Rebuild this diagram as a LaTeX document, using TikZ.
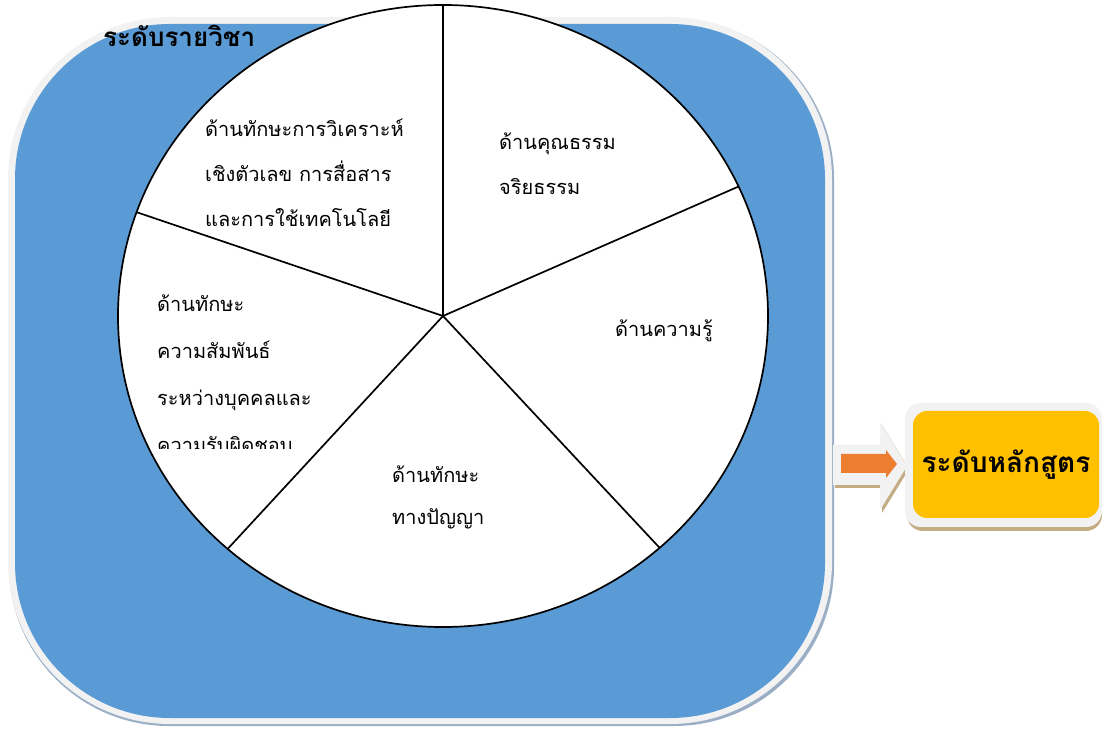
\documentclass[tikz,border=0pt]{standalone}
\usepackage{fontspec}
\newfontfamily\thaifont[Script=Thai]{Loma}
\usepackage{xcolor}
\usepackage{tikz}
\usetikzlibrary{calc}
\definecolor{boxblue}{HTML}{5B9BD5}
\definecolor{rimgray}{HTML}{F2F2F2}
\definecolor{shadeblue}{HTML}{9AAEC6}
\definecolor{arroworange}{HTML}{ED7D31}
\definecolor{boxyellow}{HTML}{FFC000}
\definecolor{shadetan}{HTML}{C4AC84}

\begin{document}
\begin{tikzpicture}[x=1pt,y=1pt]%%levels
        \tikzstyle{label} = [font=\thaifont\fontsize{20}{24}\selectfont, anchor=base west, inner sep=0pt]
        \tikzstyle{head}  = [font=\thaifont\bfseries\fontsize{26}{30}\selectfont, inner sep=0pt]
        \useasboundingbox (0,0) rectangle (1102,728);
        % course box (left)
        \fill [shadeblue, rounded corners=160pt] (9,2) rectangle (834,709);
        \fill [rimgray, rounded corners=162pt] (8,4) rectangle (832,711);
        \fill [boxblue, rounded corners=155pt] (15,10) rectangle (825,704);
        \node [head, anchor=base west](course) at (103,681) {ระดับรายวิชา};
        % pie
        \coordinate (c) at (443,412);
        \draw [line width=1.7pt, fill=white] (c) ellipse [x radius=325, y radius=311];
        \foreach \a [count=\i] in {90,24.6,-48.2,-131.5,160.5}
        {
                \coordinate (s\i) at ($(c)+(\a:325 and 311)$);
                \draw [line width=1.7pt] (c) -- (s\i);
        }
        \foreach \t [count=\i] in {ด้านทักษะการวิเคราะห์, เชิงตัวเลข การสื่อสาร, และการใช้เทคโนโลยี}
                \node [label](skill\i) at (205,636-45*\i) {\t};
        \foreach \t [count=\i] in {ด้านคุณธรรม, จริยธรรม}
                \node [label](ethic\i) at (499,623-45*\i) {\t};
        \node [label](know) at (615,391) {ด้านความรู้};
        \begin{scope}
                \clip (140,279) rectangle (440,450);
                \foreach \t [count=\i] in {ด้านทักษะ, ความสัมพันธ์, ระหว่างบุคคลและ, ความรับผิดชอบ}
                        \node [label](rel\i) at (157,463-47*\i) {\t};
        \end{scope}
        \foreach \t [count=\i] in {ด้านทักษะ, ทางปัญญา}
                \node [label](cog\i) at (392,287-42*\i) {\t};
        % arrow
        \fill [shadetan] (835,280) -- (882,280) -- (882,303) -- (909,259) -- (882,215) -- (882,240) -- (835,240) -- cycle;
        \fill [rimgray] (833,283) -- (880,283) -- (880,306) -- (907,262) -- (880,218) -- (880,243) -- (833,243) -- cycle;
        \fill [arroworange] (841,274) -- (886,274) -- (886,278) -- (897,264) -- (886,250) -- (886,255) -- (841,255) -- cycle;
        % program box (right)
        \fill [shadetan, rounded corners=16pt] (907,197) rectangle (1102,321);
        \fill [rimgray, rounded corners=16pt] (905,201) rectangle (1102,325);
        \node [head, font=\thaifont\bfseries\fontsize{28}{32}\selectfont, fill=boxyellow, rounded corners=14pt, minimum width=186pt, minimum height=107pt](program) at (1006,263.5) {ระดับหลักสูตร};
\end{tikzpicture}
\end{document}
